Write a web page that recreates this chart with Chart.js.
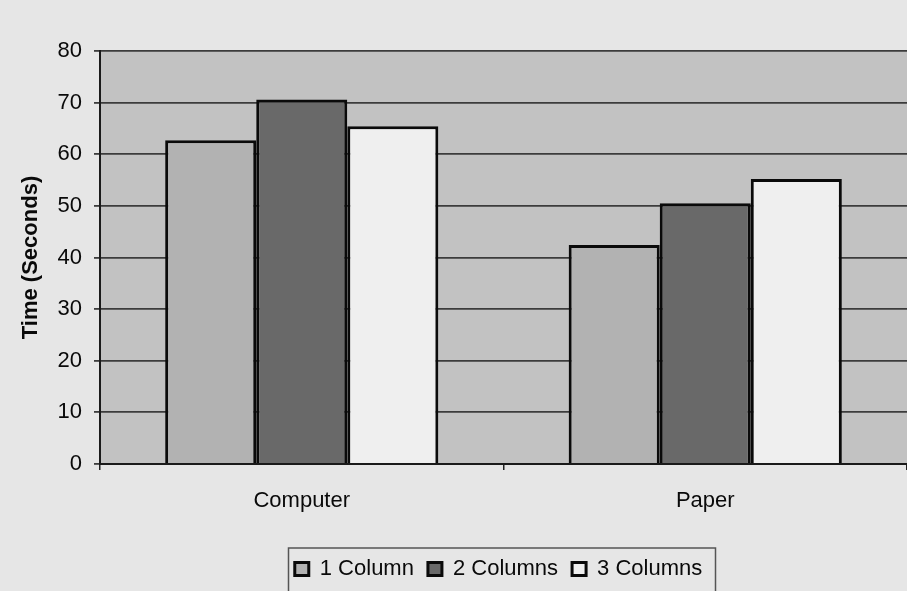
<!DOCTYPE html>
<html>
<head>
<meta charset="utf-8">
<title>Time (Seconds) by layout</title>
<script src="https://cdn.jsdelivr.net/npm/chart.js@4/dist/chart.umd.min.js"></script>
<style>
  html, body { margin: 0; padding: 0; background: #e6e6e6; }
  #wrap { width: 907px; height: 591px; }
</style>
</head>
<body>
<div id="wrap"><canvas id="timeChart" width="907" height="591"></canvas></div>
<script>
// values
const categories = ["Computer", "Paper"];
const seriesNames = ["1 Column", "2 Columns", "3 Columns"];
const oneColumn = [62.7, 42.4];
const twoColumns = [70.6, 50.5];
const threeColumns = [65.4, 55.2];
const yTicks = [0, 10, 20, 30, 40, 50, 60, 70, 80];

const fills = ["#b2b2b2", "#696969", "#efefef"];
const FONT = "'Liberation Sans', Arial, sans-serif";

// page + plot backgrounds, and the legend frame
const backdrop = {
  id: "backdrop",
  beforeDraw(chart) {
    const { ctx, chartArea } = chart;
    ctx.save();
    ctx.fillStyle = "#e6e6e6";
    ctx.fillRect(0, 0, chart.width, chart.height);
    ctx.fillStyle = "#c2c2c2";
    ctx.fillRect(chartArea.left, chartArea.top,
      chartArea.right - chartArea.left, chartArea.bottom - chartArea.top);
    ctx.restore();
  },
  afterUpdate(chart) {
    // the legend sits a bit right of centre in the original
    const lg = chart.legend;
    lg.left += 45;
    lg.right += 45;
  },
  afterDraw(chart) {
    const lg = chart.legend;
    const mid = (lg.left + lg.right) / 2;
    const { ctx } = chart;
    ctx.save();
    ctx.strokeStyle = "#555";
    ctx.lineWidth = 1.5;
    ctx.strokeRect(mid - 210, lg.top + 4, 427, 60);
    ctx.restore();
  }
};

const ctx = document.getElementById("timeChart").getContext("2d");

new Chart(ctx, {
  type: "bar",
  data: {
    labels: categories,
    datasets: [oneColumn, twoColumns, threeColumns].map((vals, i) => ({
      label: seriesNames[i],
      data: vals,
      backgroundColor: fills[i],
      borderColor: "#0a0a0a",
      borderWidth: 3,
      categoryPercentage: 0.677,
      barPercentage: 1.0
    }))
  },
  options: {
    responsive: false,
    animation: false,
    devicePixelRatio: 1,
    layout: { padding: { top: 51, bottom: 1, left: 0, right: 0 } },
    plugins: {
      tooltip: { enabled: false },
      legend: {
        position: "bottom",
        labels: {
          boxWidth: 14,
          boxHeight: 13,
          padding: 14,
          color: "#0a0a0a",
          font: { family: FONT, size: 22 }
        }
      }
    },
    scales: {
      x: {
        afterFit(scale) { scale.height = 80; },
        grid: {
          display: true,
          drawOnChartArea: false,
          tickLength: 6,
          color: "#222",
          lineWidth: 1.5
        },
        border: { display: true, color: "#1a1a1a", width: 2 },
        ticks: {
          color: "#0a0a0a",
          padding: 18,
          font: { family: FONT, size: 22 }
        }
      },
      y: {
        min: 0,
        max: 80,
        afterFit(scale) { scale.width = 100; },
        afterBuildTicks(scale) {
          scale.ticks = yTicks.map((v) => ({ value: v }));
        },
        grid: {
          color: "#3c3c3c",
          lineWidth: 1.8,
          tickLength: 6
        },
        border: { display: true, color: "#1a1a1a", width: 2 },
        ticks: {
          color: "#0a0a0a",
          padding: 12,
          font: { family: FONT, size: 22 }
        },
        title: {
          display: true,
          text: "Time (Seconds)",
          color: "#0a0a0a",
          padding: { top: 18, bottom: 0 },
          font: { family: FONT, size: 22, weight: "bold" }
        }
      }
    }
  },
  plugins: [backdrop]
});
</script>
</body>
</html>
